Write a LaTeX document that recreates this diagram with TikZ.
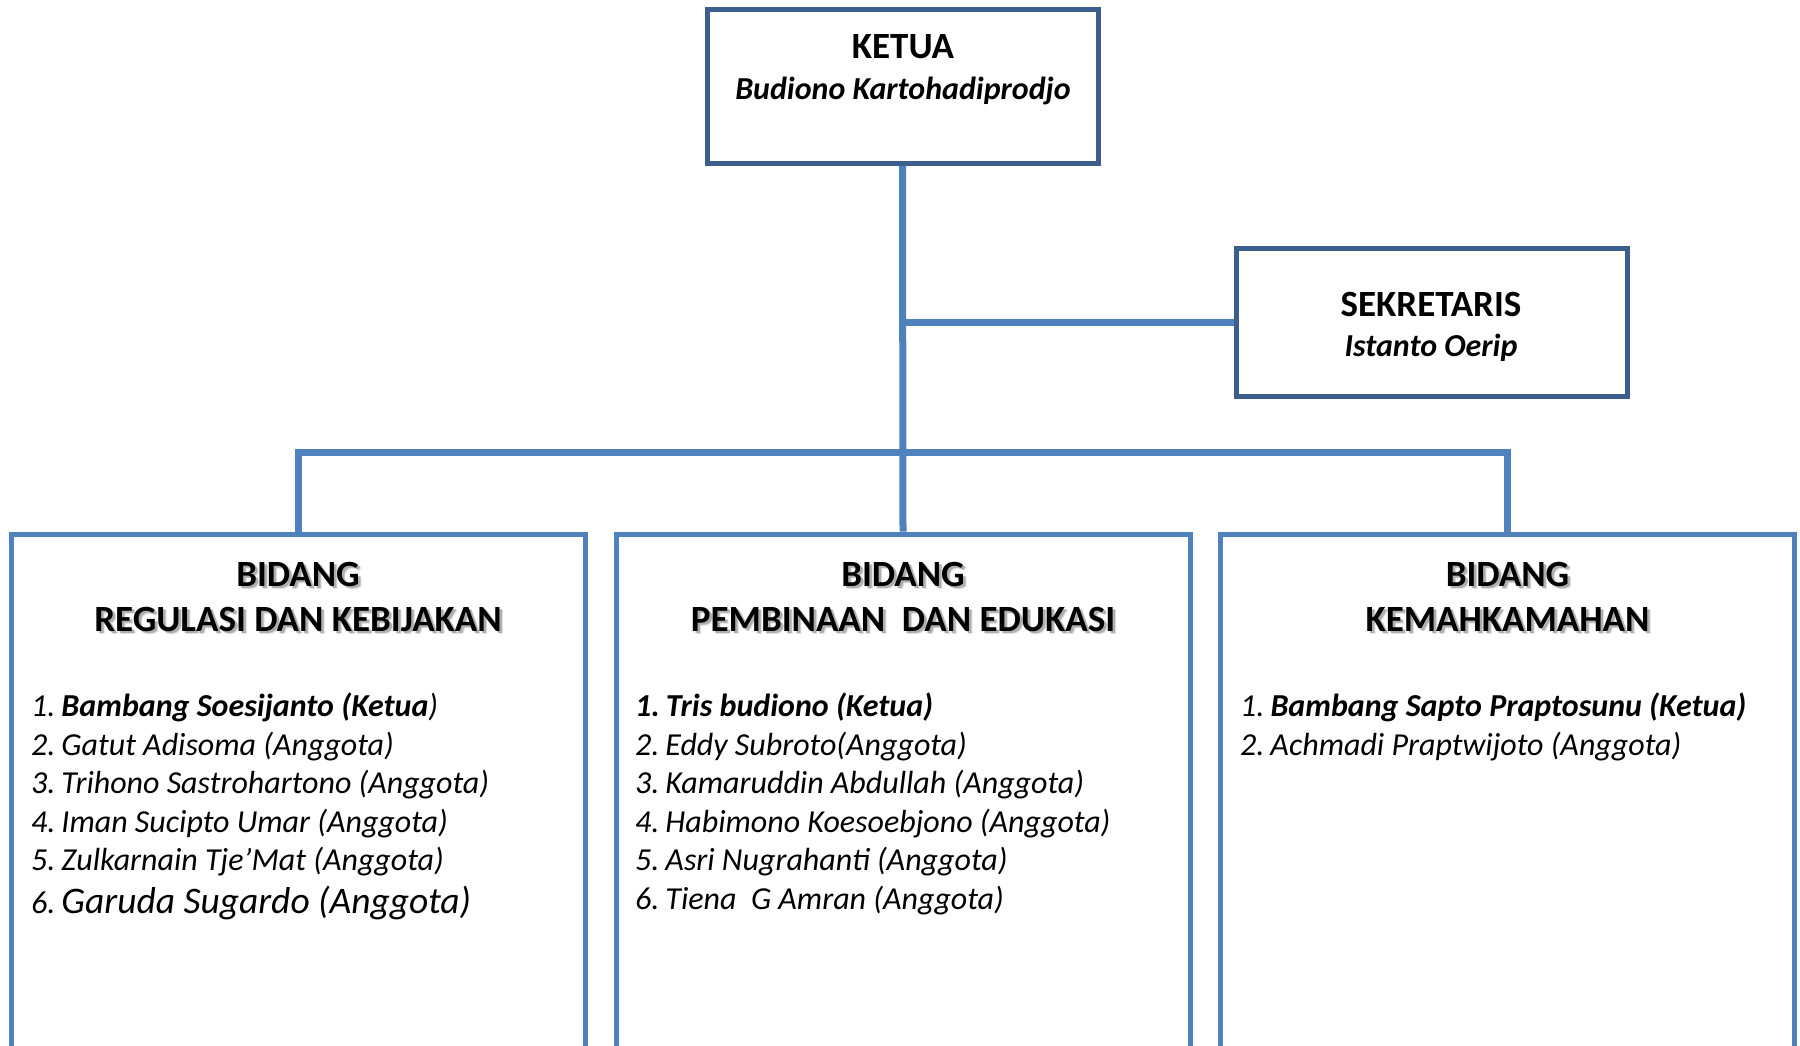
\documentclass[tikz,border=0pt]{standalone}
\usepackage{fontspec}
\setmainfont{Carlito}
\usetikzlibrary{backgrounds}
\definecolor{darkframe}{HTML}{3B5E8C}
\definecolor{midblue}{HTML}{4F81BD}
\newcommand\ttlfont{\fontsize{37}{40}\selectfont\bfseries}
\newcommand\nmfont{\fontsize{32}{36}\selectfont\bfseries\itshape}
\newcommand\lstfont{\fontsize{32}{36}\selectfont\itshape}
\newcommand\gp{\hspace{6pt}}
\tikzset{
  topbox/.style={draw=darkframe, line width=5pt, fill=white, inner sep=0pt, minimum width=391pt},
  fieldbox/.style={draw=midblue, line width=5pt, fill=white, inner sep=0pt, minimum width=574pt, minimum height=570pt, anchor=north},
  conn/.style={draw=midblue, line width=7pt},
  ttl/.style={anchor=base, font=\ttlfont, inner sep=0pt},
  shd/.style={anchor=base, font=\ttlfont, inner sep=0pt, text=black, opacity=0.22},
  nm/.style={anchor=base, font=\nmfont, inner sep=0pt},
  lst/.style={anchor=base west, font=\lstfont, inner sep=0pt},
}
\begin{document}
\begin{tikzpicture}[x=1pt, y=-1pt]
\path[use as bounding box] (0,0) rectangle (1800,1045);
\clip (0,0) rectangle (1800,1045);

% boxes
\node[topbox, minimum height=154pt] (ketua) at (902.5,86) {};
\node[topbox, minimum height=148pt] (sek) at (1431.5,322) {};
\node[fieldbox] (f1) at (298,531.5) {};
\node[fieldbox] (f2) at (903,531.5) {};
\node[fieldbox] (f3) at (1507.5,531.5) {};

% connectors
\coordinate (bar) at (903,452);
\begin{pgfonlayer}{background}
\fill[white] (0,0) rectangle (1800,1045);
\draw[conn] (ketua.south) -- (f2.north);
\draw[conn] (sek.west) -- (sek.west -| ketua.south);
\draw[conn] (f1.north) |- (bar) -| (f3.north);
\end{pgfonlayer}

% top texts
\node[ttl] (kt) at (903,58) {KETUA};
\node[nm] (kn) at (903,99) {Budiono Kartohadiprodjo};
\node[ttl] (st) at (1431,316) {SEKRETARIS};
\node[nm] (sn) at (1431,356.5) {Istanto Oerip};

% field titles with shadow
\foreach \cx/\ln/\nm in {298/REGULASI DAN KEBIJAKAN/a, 903/PEMBINAAN\ \ DAN EDUKASI/b, 1507.5/KEMAHKAMAHAN/c}{
  \node[shd] (s1\nm) at (\cx+2.5,588.5) {BIDANG};
  \node[shd] (s2\nm) at (\cx+2.5,633.5) {\ln};
  \node[shd, opacity=0.12] (t1\nm) at (\cx+3.5,589.5) {BIDANG};
  \node[shd, opacity=0.12] (t2\nm) at (\cx+3.5,634.5) {\ln};
  \node[ttl] (b1\nm) at (\cx,586) {BIDANG};
  \node[ttl] (b2\nm) at (\cx,631) {\ln};
}

% left list
\node[lst] (a1) at (31,716.5) {1.\gp\textbf{Bambang Soesijanto (Ketua})};
\node[lst] (a2) at (31,755) {2.\gp Gatut Adisoma (Anggota)};
\node[lst] (a3) at (31,793.5) {3.\gp Trihono Sastrohartono (Anggota)};
\node[lst] (a4) at (31,832) {4.\gp Iman Sucipto Umar (Anggota)};
\node[lst] (a5) at (31,870.5) {5.\gp Zulkarnain Tje’Mat (Anggota)};
\node[lst] (a6) at (31,913) {6.\gp{\fontsize{37.5}{40}\selectfont Garuda Sugardo (Anggota)}};

% middle list
\node[lst] (m1) at (635,716.5) {\textbf{1.\gp Tris budiono (Ketua)}};
\node[lst] (m2) at (635,755) {2.\gp Eddy Subroto(Anggota)};
\node[lst] (m3) at (635,793.5) {3.\gp Kamaruddin Abdullah (Anggota)};
\node[lst] (m4) at (635,832) {4.\gp Habimono Koesoebjono (Anggota)};
\node[lst] (m5) at (635,870.5) {5.\gp Asri Nugrahanti (Anggota)};
\node[lst] (m6) at (635,909) {6.\gp Tiena\ \ G Amran (Anggota)};

% right list
\node[lst] (r1) at (1240,716.5) {1.\gp\textbf{Bambang Sapto Praptosunu (Ketua)}};
\node[lst] (r2) at (1240,755) {2.\gp Achmadi Praptwijoto (Anggota)};
\end{tikzpicture}
\end{document}
